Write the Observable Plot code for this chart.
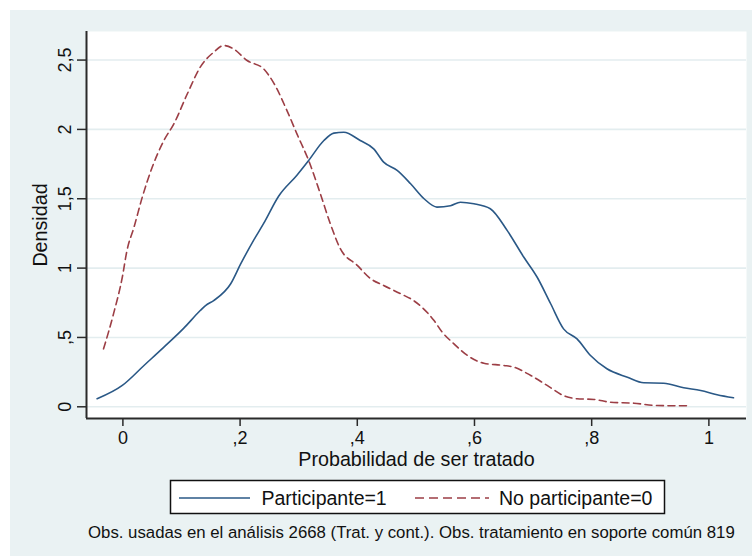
<!DOCTYPE html>
<html>
<head>
<meta charset="utf-8">
<script src="https://cdn.jsdelivr.net/npm/d3@7"></script>
<script src="https://cdn.jsdelivr.net/npm/@observablehq/plot@0.6"></script>
<style>
  html, body { margin: 0; padding: 0; background: #ffffff; }
  #page { position: relative; width: 752px; height: 556px; overflow: hidden; }
  #panel { position: absolute; left: 10px; top: 10px; width: 742px; height: 546px; background: #EAF2F3; }
  #chart { position: absolute; left: 0; top: 0; }
  #legend { position: absolute; left: 0; top: 470px; }
  svg text { font-family: "Liberation Sans", Arial, Helvetica, sans-serif; }
</style>
</head>
<body>
<div id="page">
  <div id="panel"></div>
  <div id="chart"></div>
  <div id="legend"></div>
</div>
<script>
// Kernel density of the propensity score, by treatment group
const participanteX = [-0.044, -0.001, 0.036, 0.070, 0.104, 0.132, 0.141, 0.155, 0.184, 0.201, 0.223, 0.240, 0.266, 0.297, 0.317, 0.343, 0.360, 0.377, 0.405, 0.428, 0.445, 0.468, 0.491, 0.514, 0.536, 0.559, 0.576, 0.599, 0.627, 0.656, 0.684, 0.707, 0.730, 0.752, 0.775, 0.798, 0.826, 0.861, 0.889, 0.923, 0.957, 0.986, 1.014, 1.042];
const participanteY = [0.058, 0.154, 0.298, 0.430, 0.567, 0.694, 0.730, 0.766, 0.887, 1.030, 1.200, 1.320, 1.520, 1.670, 1.776, 1.920, 1.973, 1.980, 1.920, 1.860, 1.764, 1.704, 1.608, 1.500, 1.440, 1.450, 1.475, 1.464, 1.428, 1.270, 1.080, 0.934, 0.743, 0.562, 0.490, 0.370, 0.274, 0.213, 0.173, 0.170, 0.137, 0.118, 0.087, 0.065];

const noParticipanteX = [-0.033, -0.016, -0.001, 0.007, 0.019, 0.033, 0.050, 0.070, 0.087, 0.110, 0.132, 0.155, 0.172, 0.189, 0.212, 0.240, 0.258, 0.280, 0.297, 0.317, 0.337, 0.354, 0.371, 0.400, 0.423, 0.445, 0.474, 0.496, 0.531, 0.545, 0.565, 0.588, 0.616, 0.650, 0.667, 0.696, 0.724, 0.752, 0.775, 0.804, 0.832, 0.872, 0.912, 0.963];
const noParticipanteY = [0.418, 0.670, 0.934, 1.127, 1.295, 1.510, 1.727, 1.920, 2.040, 2.257, 2.449, 2.557, 2.605, 2.580, 2.497, 2.437, 2.330, 2.136, 1.968, 1.776, 1.536, 1.320, 1.140, 1.020, 0.923, 0.875, 0.815, 0.766, 0.622, 0.538, 0.454, 0.370, 0.314, 0.298, 0.286, 0.226, 0.154, 0.081, 0.058, 0.053, 0.033, 0.026, 0.009, 0.007];

const seriesNames = ["Participante=1", "No participante=0"];
const xTicks = [0, 0.2, 0.4, 0.6, 0.8, 1];
const xTickLabels = ["0", ",2", ",4", ",6", ",8", "1"];
const yTicks = [0, 0.5, 1, 1.5, 2, 2.5];
const yTickLabels = ["0", ",5", "1", "1,5", "2", "2,5"];
const xTitle = "Probabilidad de ser tratado";
const yTitle = "Densidad";
const note = "Obs. usadas en el análisis 2668 (Trat. y cont.). Obs. tratamiento en soporte común 819";

const navy = "#2A5886";
const maroon = "#9C3E45";
const axisColor = "#2a2a2a";
const gridColor = "#E3EDEF";

const participante = participanteX.map((x, i) => ({x, y: participanteY[i]}));
const noParticipante = noParticipanteX.map((x, i) => ({x, y: noParticipanteY[i]}));

const xDomain = [-0.0621, 1.0642];
const yDomain = [-0.0844, 2.706];

const chart = Plot.plot({
  width: 752,
  height: 470,
  marginLeft: 86,
  marginRight: 6,
  marginTop: 31,
  marginBottom: 52,
  style: {background: "transparent", overflow: "visible", fontFamily: "'Liberation Sans', Arial, sans-serif"},
  x: {domain: xDomain},
  y: {domain: yDomain},
  marks: [
    Plot.frame({fill: "#ffffff", stroke: null}),
    Plot.gridY(yTicks, {stroke: gridColor, strokeOpacity: 1, strokeWidth: 1.6}),
    Plot.line(noParticipante, {x: "x", y: "y", stroke: maroon, strokeWidth: 1.6, strokeDasharray: "7,4.5", curve: "monotone-x"}),
    Plot.line(participante, {x: "x", y: "y", stroke: navy, strokeWidth: 1.6, curve: "monotone-x"}),
    Plot.ruleX([xDomain[0]], {stroke: axisColor, strokeWidth: 2}),
    Plot.ruleY([yDomain[0]], {stroke: axisColor, strokeWidth: 2}),
    Plot.axisX({ticks: xTicks, tickSize: 8, tickFormat: () => "", label: null, stroke: axisColor, strokeWidth: 1.5}),
    Plot.axisY({ticks: yTicks, tickSize: 9, tickFormat: () => "", label: null, stroke: axisColor, strokeWidth: 1.5}),
    Plot.text(xTicks, {x: d => d, text: (d, i) => xTickLabels[i], frameAnchor: "bottom", dy: 25, lineAnchor: "bottom", textAnchor: "middle", fontSize: 18, fill: "#111"}),
    Plot.text(yTicks, {y: d => d, text: (d, i) => yTickLabels[i], frameAnchor: "left", dx: -16, rotate: -90, lineAnchor: "bottom", textAnchor: "middle", fontSize: 18, fill: "#111"}),
    Plot.text([xTitle], {text: d => d, frameAnchor: "bottom", dy: 47, lineAnchor: "bottom", textAnchor: "middle", fontSize: 19.7, fill: "#111"}),
    Plot.text([yTitle], {text: d => d, frameAnchor: "left", dx: -40, rotate: -90, lineAnchor: "bottom", textAnchor: "middle", fontSize: 19.7, fill: "#111"})
  ]
});
document.getElementById("chart").appendChild(chart);

// Legend box and note underneath the plot
const legendSvg = d3.select("#legend").append("svg")
  .attr("width", 752).attr("height", 86);

legendSvg.append("rect")
  .attr("x", 170.5).attr("y", 10.5).attr("width", 494).attr("height", 33)
  .attr("fill", "#ffffff").attr("stroke", "#111").attr("stroke-width", 1.5);

const legendItems = [
  {name: seriesNames[0], color: navy, dash: null, x1: 179, x2: 250, tx: 261.5},
  {name: seriesNames[1], color: maroon, dash: "9,5", x1: 415, x2: 489, tx: 499}
];
const items = legendSvg.selectAll("g.item").data(legendItems).join("g").attr("class", "item");
items.append("line")
  .attr("x1", d => d.x1).attr("x2", d => d.x2)
  .attr("y1", 28).attr("y2", 28)
  .attr("stroke", d => d.color).attr("stroke-width", 1.6)
  .attr("stroke-dasharray", d => d.dash);
items.append("text")
  .attr("x", d => d.tx).attr("y", 35)
  .attr("font-size", 19.5).attr("fill", "#111")
  .text(d => d.name);

legendSvg.append("text")
  .attr("x", 88).attr("y", 68)
  .attr("font-size", 16.8).attr("fill", "#111")
  .text(note);
</script>
</body>
</html>
